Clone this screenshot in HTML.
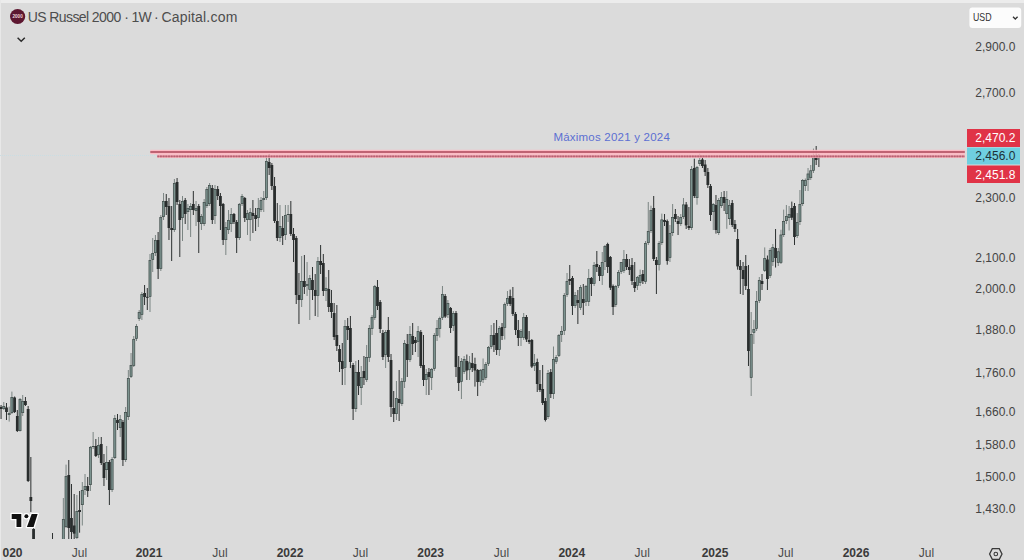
<!DOCTYPE html>
<html><head><meta charset="utf-8">
<style>
html,body{margin:0;padding:0;}
body{width:1024px;height:560px;overflow:hidden;background:#dbdbdb;position:relative;font-family:"Liberation Sans",sans-serif;}
#top{position:absolute;left:0;top:0;width:1024px;height:3px;background:#ececec;}
#left{position:absolute;left:0;top:0;width:1.2px;height:560px;background:#e8e8e8;}
svg{position:absolute;left:0;top:0;}
.t{position:absolute;white-space:nowrap;}
</style></head><body>
<div id="top"></div><div id="left"></div>
<svg width="1024" height="560" viewBox="0 0 1024 560">
<defs><clipPath id="pane"><rect x="0" y="3" width="955" height="536"/></clipPath></defs>
<!-- faint current price line -->
<line x1="0" y1="155.5" x2="955" y2="155.5" stroke="#c9dde3" stroke-width="1" stroke-dasharray="1 1"/>
<g clip-path="url(#pane)" shape-rendering="auto">
<rect x="0.56" y="405.0" width="1" height="14.0" fill="#2d3131"/>
<rect x="3.27" y="402.0" width="1" height="8.0" fill="#7b8583"/>
<rect x="5.98" y="403.0" width="1" height="17.0" fill="#2d3131"/>
<rect x="8.68" y="406.6" width="1" height="15.0" fill="#7b8583"/>
<rect x="11.39" y="391.6" width="1" height="22.4" fill="#7b8583"/>
<rect x="14.10" y="396.5" width="1" height="16.5" fill="#2d3131"/>
<rect x="16.81" y="410.0" width="1" height="22.0" fill="#2d3131"/>
<rect x="19.52" y="398.0" width="1" height="33.5" fill="#7b8583"/>
<rect x="22.22" y="395.0" width="1" height="21.0" fill="#7b8583"/>
<rect x="24.93" y="397.0" width="1" height="9.0" fill="#2d3131"/>
<rect x="27.64" y="406.0" width="1" height="76.0" fill="#2d3131"/>
<rect x="30.35" y="457.0" width="1" height="55.0" fill="#2d3131"/>
<rect x="33.06" y="528.0" width="1" height="172.0" fill="#2d3131"/>
<rect x="52.01" y="533.0" width="1" height="167.0" fill="#2d3131"/>
<rect x="62.84" y="498.0" width="1" height="102.0" fill="#7b8583"/>
<rect x="65.55" y="464.6" width="1" height="63.4" fill="#7b8583"/>
<rect x="68.26" y="460.0" width="1" height="80.0" fill="#2d3131"/>
<rect x="70.97" y="484.0" width="1" height="61.0" fill="#2d3131"/>
<rect x="73.68" y="494.0" width="1" height="51.0" fill="#2d3131"/>
<rect x="76.38" y="495.0" width="1" height="50.0" fill="#7b8583"/>
<rect x="79.09" y="491.0" width="1" height="41.7" fill="#2d3131"/>
<rect x="81.80" y="482.0" width="1" height="43.5" fill="#7b8583"/>
<rect x="84.51" y="474.0" width="1" height="21.0" fill="#7b8583"/>
<rect x="87.22" y="477.0" width="1" height="20.0" fill="#2d3131"/>
<rect x="89.92" y="446.0" width="1" height="45.0" fill="#7b8583"/>
<rect x="92.63" y="432.0" width="1" height="17.0" fill="#7b8583"/>
<rect x="95.34" y="439.0" width="1" height="18.0" fill="#2d3131"/>
<rect x="98.05" y="437.0" width="1" height="21.0" fill="#7b8583"/>
<rect x="100.76" y="437.0" width="1" height="28.0" fill="#2d3131"/>
<rect x="103.46" y="454.0" width="1" height="32.0" fill="#2d3131"/>
<rect x="106.17" y="446.0" width="1" height="34.0" fill="#7b8583"/>
<rect x="108.88" y="460.0" width="1" height="45.0" fill="#2d3131"/>
<rect x="111.59" y="457.0" width="1" height="35.0" fill="#7b8583"/>
<rect x="114.30" y="415.0" width="1" height="44.0" fill="#7b8583"/>
<rect x="117.00" y="414.0" width="1" height="16.0" fill="#2d3131"/>
<rect x="119.71" y="415.0" width="1" height="22.0" fill="#7b8583"/>
<rect x="122.42" y="420.0" width="1" height="46.0" fill="#2d3131"/>
<rect x="125.13" y="407.0" width="1" height="55.0" fill="#7b8583"/>
<rect x="127.84" y="370.0" width="1" height="50.0" fill="#7b8583"/>
<rect x="130.54" y="353.0" width="1" height="25.0" fill="#7b8583"/>
<rect x="133.25" y="336.0" width="1" height="31.0" fill="#7b8583"/>
<rect x="135.96" y="324.0" width="1" height="17.0" fill="#7b8583"/>
<rect x="138.67" y="310.0" width="1" height="11.0" fill="#7b8583"/>
<rect x="141.38" y="292.0" width="1" height="28.0" fill="#7b8583"/>
<rect x="144.08" y="285.0" width="1" height="20.0" fill="#2d3131"/>
<rect x="146.79" y="288.0" width="1" height="22.0" fill="#2d3131"/>
<rect x="149.50" y="254.0" width="1" height="58.0" fill="#7b8583"/>
<rect x="152.21" y="238.0" width="1" height="34.0" fill="#7b8583"/>
<rect x="154.92" y="235.0" width="1" height="21.0" fill="#7b8583"/>
<rect x="157.62" y="232.0" width="1" height="47.0" fill="#2d3131"/>
<rect x="160.33" y="215.0" width="1" height="56.0" fill="#7b8583"/>
<rect x="163.04" y="193.0" width="1" height="27.0" fill="#7b8583"/>
<rect x="165.75" y="194.0" width="1" height="21.0" fill="#2d3131"/>
<rect x="168.46" y="198.0" width="1" height="42.0" fill="#2d3131"/>
<rect x="171.16" y="206.0" width="1" height="55.0" fill="#2d3131"/>
<rect x="173.87" y="179.0" width="1" height="53.0" fill="#7b8583"/>
<rect x="176.58" y="178.0" width="1" height="27.0" fill="#2d3131"/>
<rect x="179.29" y="200.0" width="1" height="57.0" fill="#2d3131"/>
<rect x="182.00" y="196.0" width="1" height="45.0" fill="#7b8583"/>
<rect x="184.70" y="198.0" width="1" height="26.0" fill="#2d3131"/>
<rect x="187.41" y="204.0" width="1" height="26.0" fill="#7b8583"/>
<rect x="190.12" y="203.0" width="1" height="34.0" fill="#7b8583"/>
<rect x="192.83" y="191.0" width="1" height="24.0" fill="#2d3131"/>
<rect x="195.54" y="201.0" width="1" height="25.0" fill="#7b8583"/>
<rect x="198.24" y="204.0" width="1" height="49.0" fill="#2d3131"/>
<rect x="200.95" y="214.0" width="1" height="16.0" fill="#7b8583"/>
<rect x="203.66" y="199.0" width="1" height="27.0" fill="#7b8583"/>
<rect x="206.37" y="187.0" width="1" height="21.0" fill="#7b8583"/>
<rect x="209.08" y="183.0" width="1" height="23.0" fill="#7b8583"/>
<rect x="211.78" y="185.0" width="1" height="39.0" fill="#2d3131"/>
<rect x="214.49" y="185.0" width="1" height="39.0" fill="#7b8583"/>
<rect x="217.20" y="186.0" width="1" height="14.0" fill="#2d3131"/>
<rect x="219.91" y="193.0" width="1" height="37.0" fill="#2d3131"/>
<rect x="222.62" y="203.0" width="1" height="42.0" fill="#2d3131"/>
<rect x="225.32" y="222.0" width="1" height="33.0" fill="#7b8583"/>
<rect x="228.03" y="210.0" width="1" height="24.0" fill="#7b8583"/>
<rect x="230.74" y="208.0" width="1" height="24.0" fill="#7b8583"/>
<rect x="233.45" y="213.0" width="1" height="11.0" fill="#2d3131"/>
<rect x="236.16" y="220.0" width="1" height="33.0" fill="#2d3131"/>
<rect x="238.86" y="203.0" width="1" height="37.0" fill="#7b8583"/>
<rect x="241.57" y="194.0" width="1" height="12.0" fill="#7b8583"/>
<rect x="244.28" y="197.0" width="1" height="25.0" fill="#2d3131"/>
<rect x="246.99" y="210.0" width="1" height="25.0" fill="#7b8583"/>
<rect x="249.70" y="208.0" width="1" height="33.0" fill="#7b8583"/>
<rect x="252.40" y="200.0" width="1" height="33.0" fill="#2d3131"/>
<rect x="255.11" y="208.0" width="1" height="23.0" fill="#2d3131"/>
<rect x="257.82" y="198.0" width="1" height="29.0" fill="#7b8583"/>
<rect x="260.53" y="197.0" width="1" height="15.0" fill="#7b8583"/>
<rect x="263.24" y="191.0" width="1" height="21.0" fill="#7b8583"/>
<rect x="265.94" y="157.0" width="1" height="43.0" fill="#7b8583"/>
<rect x="268.65" y="154.0" width="1" height="21.0" fill="#2d3131"/>
<rect x="271.36" y="163.0" width="1" height="27.0" fill="#2d3131"/>
<rect x="274.07" y="177.0" width="1" height="46.0" fill="#2d3131"/>
<rect x="276.78" y="203.0" width="1" height="38.0" fill="#2d3131"/>
<rect x="279.48" y="205.0" width="1" height="37.0" fill="#7b8583"/>
<rect x="282.19" y="216.0" width="1" height="29.0" fill="#2d3131"/>
<rect x="284.90" y="205.0" width="1" height="35.0" fill="#7b8583"/>
<rect x="287.61" y="205.0" width="1" height="17.0" fill="#7b8583"/>
<rect x="290.32" y="201.0" width="1" height="35.0" fill="#2d3131"/>
<rect x="293.02" y="228.0" width="1" height="34.0" fill="#2d3131"/>
<rect x="295.73" y="236.0" width="1" height="68.0" fill="#2d3131"/>
<rect x="298.44" y="273.0" width="1" height="51.0" fill="#2d3131"/>
<rect x="301.15" y="256.0" width="1" height="51.0" fill="#7b8583"/>
<rect x="303.86" y="255.0" width="1" height="39.0" fill="#2d3131"/>
<rect x="306.56" y="262.0" width="1" height="34.0" fill="#7b8583"/>
<rect x="309.27" y="275.0" width="1" height="45.0" fill="#7b8583"/>
<rect x="311.98" y="267.0" width="1" height="33.0" fill="#2d3131"/>
<rect x="314.69" y="274.0" width="1" height="42.0" fill="#2d3131"/>
<rect x="317.40" y="257.0" width="1" height="60.0" fill="#7b8583"/>
<rect x="320.10" y="245.0" width="1" height="29.0" fill="#2d3131"/>
<rect x="322.81" y="254.0" width="1" height="42.0" fill="#2d3131"/>
<rect x="325.52" y="277.0" width="1" height="24.0" fill="#7b8583"/>
<rect x="328.23" y="270.0" width="1" height="42.0" fill="#2d3131"/>
<rect x="330.94" y="290.0" width="1" height="28.0" fill="#2d3131"/>
<rect x="333.64" y="303.0" width="1" height="37.0" fill="#2d3131"/>
<rect x="336.35" y="305.0" width="1" height="46.0" fill="#2d3131"/>
<rect x="339.06" y="345.0" width="1" height="27.0" fill="#2d3131"/>
<rect x="341.77" y="343.0" width="1" height="42.0" fill="#2d3131"/>
<rect x="344.48" y="320.0" width="1" height="65.0" fill="#7b8583"/>
<rect x="347.18" y="318.0" width="1" height="22.0" fill="#2d3131"/>
<rect x="349.89" y="316.0" width="1" height="52.0" fill="#2d3131"/>
<rect x="352.60" y="363.0" width="1" height="57.0" fill="#2d3131"/>
<rect x="355.31" y="361.0" width="1" height="51.0" fill="#7b8583"/>
<rect x="358.02" y="360.0" width="1" height="35.0" fill="#2d3131"/>
<rect x="360.72" y="366.0" width="1" height="39.0" fill="#7b8583"/>
<rect x="363.43" y="356.0" width="1" height="29.0" fill="#2d3131"/>
<rect x="366.14" y="345.0" width="1" height="37.0" fill="#7b8583"/>
<rect x="368.85" y="325.0" width="1" height="37.0" fill="#7b8583"/>
<rect x="371.56" y="315.0" width="1" height="20.0" fill="#7b8583"/>
<rect x="374.26" y="285.0" width="1" height="35.0" fill="#7b8583"/>
<rect x="376.97" y="280.0" width="1" height="30.0" fill="#2d3131"/>
<rect x="379.68" y="300.0" width="1" height="33.0" fill="#2d3131"/>
<rect x="382.39" y="330.0" width="1" height="30.0" fill="#2d3131"/>
<rect x="385.10" y="330.0" width="1" height="38.0" fill="#7b8583"/>
<rect x="387.80" y="317.0" width="1" height="45.0" fill="#2d3131"/>
<rect x="390.51" y="354.0" width="1" height="63.0" fill="#2d3131"/>
<rect x="393.22" y="391.0" width="1" height="31.0" fill="#2d3131"/>
<rect x="395.93" y="381.0" width="1" height="39.0" fill="#7b8583"/>
<rect x="398.64" y="370.0" width="1" height="51.0" fill="#2d3131"/>
<rect x="401.34" y="378.0" width="1" height="28.0" fill="#7b8583"/>
<rect x="404.05" y="340.0" width="1" height="48.0" fill="#7b8583"/>
<rect x="406.76" y="334.0" width="1" height="43.0" fill="#2d3131"/>
<rect x="409.47" y="326.0" width="1" height="36.0" fill="#7b8583"/>
<rect x="412.18" y="323.0" width="1" height="32.0" fill="#2d3131"/>
<rect x="414.88" y="337.0" width="1" height="15.0" fill="#2d3131"/>
<rect x="417.59" y="326.0" width="1" height="31.0" fill="#7b8583"/>
<rect x="420.30" y="330.0" width="1" height="38.0" fill="#2d3131"/>
<rect x="423.01" y="335.0" width="1" height="51.0" fill="#2d3131"/>
<rect x="425.72" y="369.0" width="1" height="26.0" fill="#7b8583"/>
<rect x="428.42" y="368.0" width="1" height="27.0" fill="#2d3131"/>
<rect x="431.13" y="368.0" width="1" height="22.0" fill="#7b8583"/>
<rect x="433.84" y="333.0" width="1" height="38.0" fill="#7b8583"/>
<rect x="436.55" y="320.0" width="1" height="21.0" fill="#7b8583"/>
<rect x="439.26" y="316.6" width="1" height="20.9" fill="#7b8583"/>
<rect x="441.96" y="286.0" width="1" height="34.0" fill="#7b8583"/>
<rect x="444.67" y="294.0" width="1" height="24.0" fill="#2d3131"/>
<rect x="447.38" y="300.0" width="1" height="18.0" fill="#7b8583"/>
<rect x="450.09" y="307.0" width="1" height="26.0" fill="#2d3131"/>
<rect x="452.80" y="311.0" width="1" height="20.0" fill="#7b8583"/>
<rect x="455.50" y="311.0" width="1" height="66.0" fill="#2d3131"/>
<rect x="458.21" y="356.0" width="1" height="35.0" fill="#2d3131"/>
<rect x="460.92" y="358.0" width="1" height="41.0" fill="#7b8583"/>
<rect x="463.63" y="356.0" width="1" height="18.0" fill="#7b8583"/>
<rect x="466.34" y="354.5" width="1" height="25.5" fill="#2d3131"/>
<rect x="469.04" y="356.0" width="1" height="24.0" fill="#7b8583"/>
<rect x="471.75" y="353.0" width="1" height="19.0" fill="#2d3131"/>
<rect x="474.46" y="357.7" width="1" height="28.9" fill="#2d3131"/>
<rect x="477.17" y="369.0" width="1" height="27.0" fill="#2d3131"/>
<rect x="479.88" y="369.0" width="1" height="17.0" fill="#7b8583"/>
<rect x="482.58" y="358.5" width="1" height="24.5" fill="#7b8583"/>
<rect x="485.29" y="362.0" width="1" height="18.0" fill="#7b8583"/>
<rect x="488.00" y="346.0" width="1" height="20.0" fill="#7b8583"/>
<rect x="490.71" y="325.0" width="1" height="24.0" fill="#7b8583"/>
<rect x="493.42" y="323.0" width="1" height="29.0" fill="#2d3131"/>
<rect x="496.12" y="320.0" width="1" height="35.0" fill="#2d3131"/>
<rect x="498.83" y="326.0" width="1" height="30.0" fill="#7b8583"/>
<rect x="501.54" y="323.0" width="1" height="17.0" fill="#2d3131"/>
<rect x="504.25" y="302.5" width="1" height="37.0" fill="#7b8583"/>
<rect x="506.96" y="291.0" width="1" height="15.0" fill="#7b8583"/>
<rect x="509.66" y="289.6" width="1" height="16.4" fill="#2d3131"/>
<rect x="512.37" y="287.0" width="1" height="29.0" fill="#2d3131"/>
<rect x="515.08" y="312.0" width="1" height="23.0" fill="#2d3131"/>
<rect x="517.79" y="320.0" width="1" height="26.0" fill="#2d3131"/>
<rect x="520.50" y="329.0" width="1" height="17.0" fill="#7b8583"/>
<rect x="523.20" y="313.0" width="1" height="27.0" fill="#7b8583"/>
<rect x="525.91" y="315.0" width="1" height="27.0" fill="#2d3131"/>
<rect x="528.62" y="331.0" width="1" height="13.0" fill="#2d3131"/>
<rect x="531.33" y="339.0" width="1" height="29.0" fill="#2d3131"/>
<rect x="534.04" y="354.0" width="1" height="17.0" fill="#7b8583"/>
<rect x="536.74" y="358.6" width="1" height="33.4" fill="#2d3131"/>
<rect x="539.45" y="370.0" width="1" height="22.0" fill="#2d3131"/>
<rect x="542.16" y="365.0" width="1" height="40.0" fill="#2d3131"/>
<rect x="544.87" y="398.0" width="1" height="23.5" fill="#2d3131"/>
<rect x="547.58" y="370.0" width="1" height="49.0" fill="#7b8583"/>
<rect x="550.28" y="369.0" width="1" height="29.0" fill="#2d3131"/>
<rect x="552.99" y="346.5" width="1" height="52.5" fill="#7b8583"/>
<rect x="555.70" y="355.0" width="1" height="9.0" fill="#7b8583"/>
<rect x="558.41" y="334.0" width="1" height="23.0" fill="#7b8583"/>
<rect x="561.12" y="326.0" width="1" height="16.0" fill="#7b8583"/>
<rect x="563.82" y="293.0" width="1" height="42.0" fill="#7b8583"/>
<rect x="566.53" y="273.0" width="1" height="24.0" fill="#7b8583"/>
<rect x="569.24" y="265.0" width="1" height="20.0" fill="#2d3131"/>
<rect x="571.95" y="276.0" width="1" height="39.0" fill="#2d3131"/>
<rect x="574.66" y="292.0" width="1" height="16.0" fill="#7b8583"/>
<rect x="577.36" y="290.0" width="1" height="34.0" fill="#2d3131"/>
<rect x="580.07" y="285.0" width="1" height="25.0" fill="#7b8583"/>
<rect x="582.78" y="284.0" width="1" height="31.0" fill="#2d3131"/>
<rect x="585.49" y="285.0" width="1" height="21.0" fill="#7b8583"/>
<rect x="588.20" y="269.0" width="1" height="37.0" fill="#7b8583"/>
<rect x="590.90" y="277.0" width="1" height="19.0" fill="#2d3131"/>
<rect x="593.61" y="262.0" width="1" height="24.0" fill="#7b8583"/>
<rect x="596.32" y="251.0" width="1" height="21.0" fill="#2d3131"/>
<rect x="599.03" y="265.0" width="1" height="16.0" fill="#2d3131"/>
<rect x="601.74" y="252.0" width="1" height="33.0" fill="#7b8583"/>
<rect x="604.44" y="245.0" width="1" height="25.0" fill="#7b8583"/>
<rect x="607.15" y="242.7" width="1" height="30.3" fill="#2d3131"/>
<rect x="609.86" y="256.0" width="1" height="34.0" fill="#2d3131"/>
<rect x="612.57" y="284.5" width="1" height="30.5" fill="#2d3131"/>
<rect x="615.28" y="285.0" width="1" height="22.0" fill="#7b8583"/>
<rect x="617.98" y="270.0" width="1" height="18.0" fill="#7b8583"/>
<rect x="620.69" y="262.0" width="1" height="12.0" fill="#7b8583"/>
<rect x="623.40" y="250.0" width="1" height="23.0" fill="#7b8583"/>
<rect x="626.11" y="254.0" width="1" height="16.0" fill="#2d3131"/>
<rect x="628.82" y="259.0" width="1" height="16.0" fill="#2d3131"/>
<rect x="631.52" y="258.0" width="1" height="27.0" fill="#2d3131"/>
<rect x="634.23" y="262.0" width="1" height="30.0" fill="#2d3131"/>
<rect x="636.94" y="276.0" width="1" height="14.0" fill="#7b8583"/>
<rect x="639.65" y="269.6" width="1" height="16.4" fill="#7b8583"/>
<rect x="642.36" y="270.0" width="1" height="14.0" fill="#2d3131"/>
<rect x="645.06" y="241.0" width="1" height="43.0" fill="#7b8583"/>
<rect x="647.77" y="202.0" width="1" height="43.0" fill="#7b8583"/>
<rect x="650.48" y="205.7" width="1" height="27.3" fill="#7b8583"/>
<rect x="653.19" y="196.0" width="1" height="65.0" fill="#2d3131"/>
<rect x="655.90" y="257.0" width="1" height="37.0" fill="#2d3131"/>
<rect x="658.60" y="241.0" width="1" height="29.5" fill="#7b8583"/>
<rect x="661.31" y="213.6" width="1" height="31.4" fill="#7b8583"/>
<rect x="664.02" y="214.0" width="1" height="12.0" fill="#2d3131"/>
<rect x="666.73" y="219.5" width="1" height="45.2" fill="#2d3131"/>
<rect x="669.44" y="225.0" width="1" height="37.0" fill="#7b8583"/>
<rect x="672.14" y="204.0" width="1" height="32.0" fill="#7b8583"/>
<rect x="674.85" y="209.0" width="1" height="13.0" fill="#2d3131"/>
<rect x="677.56" y="216.0" width="1" height="19.0" fill="#2d3131"/>
<rect x="680.27" y="214.0" width="1" height="12.0" fill="#7b8583"/>
<rect x="682.98" y="198.0" width="1" height="21.0" fill="#7b8583"/>
<rect x="685.68" y="202.0" width="1" height="27.0" fill="#2d3131"/>
<rect x="688.39" y="207.0" width="1" height="23.0" fill="#2d3131"/>
<rect x="691.10" y="166.0" width="1" height="64.0" fill="#7b8583"/>
<rect x="693.81" y="158.7" width="1" height="39.3" fill="#2d3131"/>
<rect x="696.52" y="166.0" width="1" height="38.7" fill="#7b8583"/>
<rect x="699.22" y="153.0" width="1" height="13.0" fill="#7b8583"/>
<rect x="701.93" y="155.0" width="1" height="13.0" fill="#2d3131"/>
<rect x="704.64" y="160.0" width="1" height="16.0" fill="#2d3131"/>
<rect x="707.35" y="168.0" width="1" height="20.0" fill="#2d3131"/>
<rect x="710.06" y="184.0" width="1" height="37.0" fill="#2d3131"/>
<rect x="712.76" y="203.0" width="1" height="27.0" fill="#7b8583"/>
<rect x="715.47" y="195.0" width="1" height="38.6" fill="#2d3131"/>
<rect x="718.18" y="198.0" width="1" height="37.0" fill="#7b8583"/>
<rect x="720.89" y="192.0" width="1" height="16.0" fill="#7b8583"/>
<rect x="723.60" y="191.0" width="1" height="20.0" fill="#2d3131"/>
<rect x="726.30" y="191.0" width="1" height="37.8" fill="#7b8583"/>
<rect x="729.01" y="200.0" width="1" height="25.0" fill="#7b8583"/>
<rect x="731.72" y="200.0" width="1" height="27.0" fill="#2d3131"/>
<rect x="734.43" y="220.0" width="1" height="12.0" fill="#2d3131"/>
<rect x="737.14" y="229.0" width="1" height="40.7" fill="#2d3131"/>
<rect x="739.84" y="260.0" width="1" height="34.0" fill="#2d3131"/>
<rect x="742.55" y="262.0" width="1" height="33.0" fill="#2d3131"/>
<rect x="745.26" y="255.0" width="1" height="35.0" fill="#2d3131"/>
<rect x="747.97" y="265.0" width="1" height="101.0" fill="#2d3131"/>
<rect x="750.68" y="312.0" width="1" height="84.0" fill="#7b8583"/>
<rect x="753.38" y="320.0" width="1" height="24.0" fill="#7b8583"/>
<rect x="756.09" y="291.0" width="1" height="40.0" fill="#7b8583"/>
<rect x="758.80" y="277.0" width="1" height="26.0" fill="#7b8583"/>
<rect x="761.51" y="274.0" width="1" height="16.0" fill="#2d3131"/>
<rect x="764.22" y="247.4" width="1" height="24.6" fill="#7b8583"/>
<rect x="766.92" y="255.5" width="1" height="34.5" fill="#2d3131"/>
<rect x="769.63" y="248.0" width="1" height="30.0" fill="#7b8583"/>
<rect x="772.34" y="244.0" width="1" height="22.0" fill="#7b8583"/>
<rect x="775.05" y="229.0" width="1" height="38.5" fill="#2d3131"/>
<rect x="777.76" y="248.0" width="1" height="18.0" fill="#7b8583"/>
<rect x="780.46" y="229.7" width="1" height="34.3" fill="#7b8583"/>
<rect x="783.17" y="209.6" width="1" height="27.4" fill="#7b8583"/>
<rect x="785.88" y="205.0" width="1" height="19.0" fill="#7b8583"/>
<rect x="788.59" y="206.0" width="1" height="24.5" fill="#7b8583"/>
<rect x="791.30" y="201.6" width="1" height="18.4" fill="#2d3131"/>
<rect x="794.00" y="203.0" width="1" height="42.0" fill="#2d3131"/>
<rect x="796.71" y="213.0" width="1" height="25.0" fill="#7b8583"/>
<rect x="799.42" y="190.0" width="1" height="35.0" fill="#7b8583"/>
<rect x="802.13" y="179.0" width="1" height="27.0" fill="#7b8583"/>
<rect x="804.84" y="178.5" width="1" height="12.5" fill="#7b8583"/>
<rect x="807.54" y="168.0" width="1" height="23.0" fill="#7b8583"/>
<rect x="810.25" y="165.0" width="1" height="15.0" fill="#7b8583"/>
<rect x="812.96" y="148.6" width="1" height="24.4" fill="#7b8583"/>
<rect x="815.67" y="146.0" width="1" height="19.0" fill="#2d3131"/>
<rect x="818.38" y="154.0" width="1" height="13.0" fill="#2d3131"/>
<rect x="-0.34" y="407.0" width="2.8" height="2.0" fill="#292d2d"/>
<rect x="2.72" y="406.35" width="2.10" height="2.30" fill="#7c938f" stroke="#3e4a48" stroke-width="0.7"/>
<rect x="5.08" y="407.5" width="2.8" height="4.5" fill="#292d2d"/>
<rect x="8.13" y="413.35" width="2.10" height="1.30" fill="#7c938f" stroke="#3e4a48" stroke-width="0.7"/>
<rect x="10.84" y="397.35" width="2.10" height="15.30" fill="#7c938f" stroke="#3e4a48" stroke-width="0.7"/>
<rect x="13.20" y="397.5" width="2.8" height="14.5" fill="#292d2d"/>
<rect x="15.91" y="416.0" width="2.8" height="15.0" fill="#292d2d"/>
<rect x="18.97" y="399.35" width="2.10" height="31.30" fill="#7c938f" stroke="#3e4a48" stroke-width="0.7"/>
<rect x="21.67" y="401.35" width="2.10" height="11.30" fill="#7c938f" stroke="#3e4a48" stroke-width="0.7"/>
<rect x="24.03" y="401.0" width="2.8" height="4.0" fill="#292d2d"/>
<rect x="26.74" y="409.0" width="2.8" height="72.0" fill="#292d2d"/>
<rect x="29.45" y="497.0" width="2.8" height="4.0" fill="#292d2d"/>
<rect x="32.16" y="529.0" width="2.8" height="71.0" fill="#292d2d"/>
<rect x="51.11" y="599.5" width="2.8" height="1.0" fill="#292d2d"/>
<rect x="62.29" y="519.35" width="2.10" height="40.30" fill="#7c938f" stroke="#3e4a48" stroke-width="0.7"/>
<rect x="65.00" y="476.35" width="2.10" height="50.30" fill="#7c938f" stroke="#3e4a48" stroke-width="0.7"/>
<rect x="67.36" y="475.0" width="2.8" height="53.0" fill="#292d2d"/>
<rect x="70.07" y="518.0" width="2.8" height="14.0" fill="#292d2d"/>
<rect x="72.78" y="525.5" width="2.8" height="8.1" fill="#292d2d"/>
<rect x="75.83" y="511.35" width="2.10" height="26.30" fill="#7c938f" stroke="#3e4a48" stroke-width="0.7"/>
<rect x="78.19" y="510.0" width="2.8" height="2.0" fill="#292d2d"/>
<rect x="81.25" y="490.35" width="2.10" height="14.30" fill="#7c938f" stroke="#3e4a48" stroke-width="0.7"/>
<rect x="83.96" y="486.35" width="2.10" height="3.30" fill="#7c938f" stroke="#3e4a48" stroke-width="0.7"/>
<rect x="86.32" y="486.0" width="2.8" height="5.0" fill="#292d2d"/>
<rect x="89.37" y="447.35" width="2.10" height="37.30" fill="#7c938f" stroke="#3e4a48" stroke-width="0.7"/>
<rect x="92.08" y="446.35" width="2.10" height="0.30" fill="#7c938f" stroke="#3e4a48" stroke-width="0.7"/>
<rect x="94.44" y="446.0" width="2.8" height="10.0" fill="#292d2d"/>
<rect x="97.50" y="445.35" width="2.10" height="9.30" fill="#7c938f" stroke="#3e4a48" stroke-width="0.7"/>
<rect x="99.86" y="444.0" width="2.8" height="19.0" fill="#292d2d"/>
<rect x="102.56" y="463.0" width="2.8" height="15.0" fill="#292d2d"/>
<rect x="105.62" y="462.35" width="2.10" height="7.30" fill="#7c938f" stroke="#3e4a48" stroke-width="0.7"/>
<rect x="107.98" y="462.0" width="2.8" height="28.0" fill="#292d2d"/>
<rect x="111.04" y="459.35" width="2.10" height="30.30" fill="#7c938f" stroke="#3e4a48" stroke-width="0.7"/>
<rect x="113.75" y="418.35" width="2.10" height="39.30" fill="#7c938f" stroke="#3e4a48" stroke-width="0.7"/>
<rect x="116.10" y="420.0" width="2.8" height="3.0" fill="#292d2d"/>
<rect x="119.16" y="419.35" width="2.10" height="8.30" fill="#7c938f" stroke="#3e4a48" stroke-width="0.7"/>
<rect x="121.52" y="422.0" width="2.8" height="38.0" fill="#292d2d"/>
<rect x="124.58" y="412.35" width="2.10" height="47.30" fill="#7c938f" stroke="#3e4a48" stroke-width="0.7"/>
<rect x="127.29" y="378.35" width="2.10" height="38.30" fill="#7c938f" stroke="#3e4a48" stroke-width="0.7"/>
<rect x="129.99" y="365.35" width="2.10" height="11.30" fill="#7c938f" stroke="#3e4a48" stroke-width="0.7"/>
<rect x="132.70" y="339.35" width="2.10" height="26.30" fill="#7c938f" stroke="#3e4a48" stroke-width="0.7"/>
<rect x="135.41" y="326.35" width="2.10" height="12.30" fill="#7c938f" stroke="#3e4a48" stroke-width="0.7"/>
<rect x="138.12" y="312.35" width="2.10" height="6.30" fill="#7c938f" stroke="#3e4a48" stroke-width="0.7"/>
<rect x="140.83" y="294.35" width="2.10" height="20.30" fill="#7c938f" stroke="#3e4a48" stroke-width="0.7"/>
<rect x="143.18" y="293.0" width="2.8" height="4.0" fill="#292d2d"/>
<rect x="145.89" y="296.8" width="2.8" height="1.0" fill="#292d2d"/>
<rect x="148.95" y="260.35" width="2.10" height="36.30" fill="#7c938f" stroke="#3e4a48" stroke-width="0.7"/>
<rect x="151.66" y="253.35" width="2.10" height="6.30" fill="#7c938f" stroke="#3e4a48" stroke-width="0.7"/>
<rect x="154.37" y="240.35" width="2.10" height="12.30" fill="#7c938f" stroke="#3e4a48" stroke-width="0.7"/>
<rect x="156.72" y="240.0" width="2.8" height="29.0" fill="#292d2d"/>
<rect x="159.78" y="217.35" width="2.10" height="51.30" fill="#7c938f" stroke="#3e4a48" stroke-width="0.7"/>
<rect x="162.49" y="201.35" width="2.10" height="15.30" fill="#7c938f" stroke="#3e4a48" stroke-width="0.7"/>
<rect x="164.85" y="201.0" width="2.8" height="6.0" fill="#292d2d"/>
<rect x="167.56" y="206.0" width="2.8" height="22.0" fill="#292d2d"/>
<rect x="170.26" y="228.0" width="2.8" height="2.0" fill="#292d2d"/>
<rect x="173.32" y="183.35" width="2.10" height="46.30" fill="#7c938f" stroke="#3e4a48" stroke-width="0.7"/>
<rect x="175.68" y="182.0" width="2.8" height="20.0" fill="#292d2d"/>
<rect x="178.39" y="204.0" width="2.8" height="16.0" fill="#292d2d"/>
<rect x="181.45" y="201.35" width="2.10" height="16.30" fill="#7c938f" stroke="#3e4a48" stroke-width="0.7"/>
<rect x="183.80" y="200.0" width="2.8" height="14.0" fill="#292d2d"/>
<rect x="186.86" y="208.35" width="2.10" height="3.30" fill="#7c938f" stroke="#3e4a48" stroke-width="0.7"/>
<rect x="189.57" y="206.35" width="2.10" height="3.30" fill="#7c938f" stroke="#3e4a48" stroke-width="0.7"/>
<rect x="191.93" y="204.0" width="2.8" height="6.0" fill="#292d2d"/>
<rect x="194.99" y="208.35" width="2.10" height="2.30" fill="#7c938f" stroke="#3e4a48" stroke-width="0.7"/>
<rect x="197.34" y="206.0" width="2.8" height="16.0" fill="#292d2d"/>
<rect x="200.40" y="216.35" width="2.10" height="7.30" fill="#7c938f" stroke="#3e4a48" stroke-width="0.7"/>
<rect x="203.11" y="202.35" width="2.10" height="21.30" fill="#7c938f" stroke="#3e4a48" stroke-width="0.7"/>
<rect x="205.82" y="189.35" width="2.10" height="16.30" fill="#7c938f" stroke="#3e4a48" stroke-width="0.7"/>
<rect x="208.53" y="185.35" width="2.10" height="18.30" fill="#7c938f" stroke="#3e4a48" stroke-width="0.7"/>
<rect x="210.88" y="188.0" width="2.8" height="32.0" fill="#292d2d"/>
<rect x="213.94" y="189.35" width="2.10" height="26.30" fill="#7c938f" stroke="#3e4a48" stroke-width="0.7"/>
<rect x="216.30" y="189.0" width="2.8" height="7.0" fill="#292d2d"/>
<rect x="219.01" y="196.0" width="2.8" height="10.0" fill="#292d2d"/>
<rect x="221.72" y="204.0" width="2.8" height="36.0" fill="#292d2d"/>
<rect x="224.77" y="227.35" width="2.10" height="12.30" fill="#7c938f" stroke="#3e4a48" stroke-width="0.7"/>
<rect x="227.48" y="220.35" width="2.10" height="9.30" fill="#7c938f" stroke="#3e4a48" stroke-width="0.7"/>
<rect x="230.19" y="214.35" width="2.10" height="9.30" fill="#7c938f" stroke="#3e4a48" stroke-width="0.7"/>
<rect x="232.55" y="214.0" width="2.8" height="8.0" fill="#292d2d"/>
<rect x="235.26" y="222.0" width="2.8" height="16.0" fill="#292d2d"/>
<rect x="238.31" y="204.35" width="2.10" height="33.30" fill="#7c938f" stroke="#3e4a48" stroke-width="0.7"/>
<rect x="241.02" y="196.35" width="2.10" height="7.30" fill="#7c938f" stroke="#3e4a48" stroke-width="0.7"/>
<rect x="243.38" y="198.0" width="2.8" height="20.0" fill="#292d2d"/>
<rect x="246.44" y="213.35" width="2.10" height="6.30" fill="#7c938f" stroke="#3e4a48" stroke-width="0.7"/>
<rect x="249.15" y="212.35" width="2.10" height="7.30" fill="#7c938f" stroke="#3e4a48" stroke-width="0.7"/>
<rect x="251.50" y="213.0" width="2.8" height="3.0" fill="#292d2d"/>
<rect x="254.21" y="215.0" width="2.8" height="4.0" fill="#292d2d"/>
<rect x="257.27" y="208.35" width="2.10" height="9.30" fill="#7c938f" stroke="#3e4a48" stroke-width="0.7"/>
<rect x="259.98" y="200.35" width="2.10" height="9.30" fill="#7c938f" stroke="#3e4a48" stroke-width="0.7"/>
<rect x="262.69" y="198.35" width="2.10" height="1.30" fill="#7c938f" stroke="#3e4a48" stroke-width="0.7"/>
<rect x="265.39" y="161.35" width="2.10" height="36.30" fill="#7c938f" stroke="#3e4a48" stroke-width="0.7"/>
<rect x="267.75" y="162.0" width="2.8" height="6.0" fill="#292d2d"/>
<rect x="270.46" y="165.0" width="2.8" height="21.0" fill="#292d2d"/>
<rect x="273.17" y="186.0" width="2.8" height="35.0" fill="#292d2d"/>
<rect x="275.88" y="221.0" width="2.8" height="17.0" fill="#292d2d"/>
<rect x="278.93" y="226.35" width="2.10" height="11.30" fill="#7c938f" stroke="#3e4a48" stroke-width="0.7"/>
<rect x="281.29" y="228.0" width="2.8" height="8.0" fill="#292d2d"/>
<rect x="284.35" y="215.35" width="2.10" height="19.30" fill="#7c938f" stroke="#3e4a48" stroke-width="0.7"/>
<rect x="287.06" y="214.35" width="2.10" height="0.30" fill="#7c938f" stroke="#3e4a48" stroke-width="0.7"/>
<rect x="289.42" y="214.0" width="2.8" height="20.0" fill="#292d2d"/>
<rect x="292.12" y="234.0" width="2.8" height="6.0" fill="#292d2d"/>
<rect x="294.83" y="238.0" width="2.8" height="57.0" fill="#292d2d"/>
<rect x="297.54" y="295.0" width="2.8" height="5.0" fill="#292d2d"/>
<rect x="300.60" y="281.35" width="2.10" height="18.30" fill="#7c938f" stroke="#3e4a48" stroke-width="0.7"/>
<rect x="302.96" y="281.0" width="2.8" height="6.0" fill="#292d2d"/>
<rect x="306.01" y="284.35" width="2.10" height="1.30" fill="#7c938f" stroke="#3e4a48" stroke-width="0.7"/>
<rect x="308.72" y="278.35" width="2.10" height="11.30" fill="#7c938f" stroke="#3e4a48" stroke-width="0.7"/>
<rect x="311.08" y="280.0" width="2.8" height="10.0" fill="#292d2d"/>
<rect x="313.79" y="290.0" width="2.8" height="6.0" fill="#292d2d"/>
<rect x="316.85" y="261.35" width="2.10" height="34.30" fill="#7c938f" stroke="#3e4a48" stroke-width="0.7"/>
<rect x="319.20" y="261.0" width="2.8" height="4.0" fill="#292d2d"/>
<rect x="321.91" y="263.0" width="2.8" height="28.0" fill="#292d2d"/>
<rect x="324.97" y="288.35" width="2.10" height="2.30" fill="#7c938f" stroke="#3e4a48" stroke-width="0.7"/>
<rect x="327.33" y="289.0" width="2.8" height="18.0" fill="#292d2d"/>
<rect x="330.04" y="303.0" width="2.8" height="9.0" fill="#292d2d"/>
<rect x="332.74" y="313.0" width="2.8" height="24.0" fill="#292d2d"/>
<rect x="335.45" y="335.0" width="2.8" height="11.0" fill="#292d2d"/>
<rect x="338.16" y="349.0" width="2.8" height="13.0" fill="#292d2d"/>
<rect x="340.87" y="361.0" width="2.8" height="8.0" fill="#292d2d"/>
<rect x="343.93" y="326.35" width="2.10" height="41.30" fill="#7c938f" stroke="#3e4a48" stroke-width="0.7"/>
<rect x="346.28" y="326.0" width="2.8" height="4.0" fill="#292d2d"/>
<rect x="348.99" y="328.0" width="2.8" height="34.0" fill="#292d2d"/>
<rect x="351.70" y="365.0" width="2.8" height="44.0" fill="#292d2d"/>
<rect x="354.76" y="372.35" width="2.10" height="36.30" fill="#7c938f" stroke="#3e4a48" stroke-width="0.7"/>
<rect x="357.12" y="372.0" width="2.8" height="14.0" fill="#292d2d"/>
<rect x="360.17" y="377.35" width="2.10" height="10.30" fill="#7c938f" stroke="#3e4a48" stroke-width="0.7"/>
<rect x="362.53" y="371.0" width="2.8" height="7.0" fill="#292d2d"/>
<rect x="365.59" y="357.35" width="2.10" height="22.30" fill="#7c938f" stroke="#3e4a48" stroke-width="0.7"/>
<rect x="368.30" y="328.35" width="2.10" height="29.30" fill="#7c938f" stroke="#3e4a48" stroke-width="0.7"/>
<rect x="371.01" y="317.35" width="2.10" height="11.30" fill="#7c938f" stroke="#3e4a48" stroke-width="0.7"/>
<rect x="373.71" y="286.35" width="2.10" height="31.30" fill="#7c938f" stroke="#3e4a48" stroke-width="0.7"/>
<rect x="376.07" y="287.0" width="2.8" height="19.0" fill="#292d2d"/>
<rect x="378.78" y="302.0" width="2.8" height="27.0" fill="#292d2d"/>
<rect x="381.49" y="333.0" width="2.8" height="24.0" fill="#292d2d"/>
<rect x="384.55" y="332.35" width="2.10" height="22.30" fill="#7c938f" stroke="#3e4a48" stroke-width="0.7"/>
<rect x="386.90" y="330.0" width="2.8" height="27.0" fill="#292d2d"/>
<rect x="389.61" y="360.0" width="2.8" height="47.0" fill="#292d2d"/>
<rect x="392.32" y="408.0" width="2.8" height="6.0" fill="#292d2d"/>
<rect x="395.38" y="398.35" width="2.10" height="15.30" fill="#7c938f" stroke="#3e4a48" stroke-width="0.7"/>
<rect x="397.74" y="399.0" width="2.8" height="4.0" fill="#292d2d"/>
<rect x="400.79" y="381.35" width="2.10" height="22.30" fill="#7c938f" stroke="#3e4a48" stroke-width="0.7"/>
<rect x="403.50" y="343.35" width="2.10" height="38.30" fill="#7c938f" stroke="#3e4a48" stroke-width="0.7"/>
<rect x="405.86" y="344.0" width="2.8" height="16.0" fill="#292d2d"/>
<rect x="408.92" y="334.35" width="2.10" height="25.30" fill="#7c938f" stroke="#3e4a48" stroke-width="0.7"/>
<rect x="411.28" y="336.0" width="2.8" height="8.0" fill="#292d2d"/>
<rect x="413.98" y="340.0" width="2.8" height="3.0" fill="#292d2d"/>
<rect x="417.04" y="331.35" width="2.10" height="10.30" fill="#7c938f" stroke="#3e4a48" stroke-width="0.7"/>
<rect x="419.40" y="332.0" width="2.8" height="34.0" fill="#292d2d"/>
<rect x="422.11" y="365.0" width="2.8" height="15.0" fill="#292d2d"/>
<rect x="425.17" y="374.35" width="2.10" height="5.30" fill="#7c938f" stroke="#3e4a48" stroke-width="0.7"/>
<rect x="427.52" y="372.0" width="2.8" height="5.0" fill="#292d2d"/>
<rect x="430.58" y="369.35" width="2.10" height="8.30" fill="#7c938f" stroke="#3e4a48" stroke-width="0.7"/>
<rect x="433.29" y="335.35" width="2.10" height="33.30" fill="#7c938f" stroke="#3e4a48" stroke-width="0.7"/>
<rect x="436.00" y="328.35" width="2.10" height="7.30" fill="#7c938f" stroke="#3e4a48" stroke-width="0.7"/>
<rect x="438.71" y="318.35" width="2.10" height="10.30" fill="#7c938f" stroke="#3e4a48" stroke-width="0.7"/>
<rect x="441.41" y="294.35" width="2.10" height="23.30" fill="#7c938f" stroke="#3e4a48" stroke-width="0.7"/>
<rect x="443.77" y="296.0" width="2.8" height="20.6" fill="#292d2d"/>
<rect x="446.83" y="303.35" width="2.10" height="11.30" fill="#7c938f" stroke="#3e4a48" stroke-width="0.7"/>
<rect x="449.19" y="308.0" width="2.8" height="20.0" fill="#292d2d"/>
<rect x="452.25" y="313.35" width="2.10" height="12.30" fill="#7c938f" stroke="#3e4a48" stroke-width="0.7"/>
<rect x="454.60" y="313.0" width="2.8" height="54.0" fill="#292d2d"/>
<rect x="457.31" y="367.0" width="2.8" height="16.0" fill="#292d2d"/>
<rect x="460.37" y="361.35" width="2.10" height="20.30" fill="#7c938f" stroke="#3e4a48" stroke-width="0.7"/>
<rect x="463.08" y="359.35" width="2.10" height="12.30" fill="#7c938f" stroke="#3e4a48" stroke-width="0.7"/>
<rect x="465.44" y="361.0" width="2.8" height="9.5" fill="#292d2d"/>
<rect x="468.49" y="362.85" width="2.10" height="6.80" fill="#7c938f" stroke="#3e4a48" stroke-width="0.7"/>
<rect x="470.85" y="363.0" width="2.8" height="5.0" fill="#292d2d"/>
<rect x="473.56" y="364.0" width="2.8" height="6.5" fill="#292d2d"/>
<rect x="476.27" y="370.0" width="2.8" height="12.0" fill="#292d2d"/>
<rect x="479.33" y="370.35" width="2.10" height="11.30" fill="#7c938f" stroke="#3e4a48" stroke-width="0.7"/>
<rect x="482.03" y="369.35" width="2.10" height="10.30" fill="#7c938f" stroke="#3e4a48" stroke-width="0.7"/>
<rect x="484.74" y="364.35" width="2.10" height="13.30" fill="#7c938f" stroke="#3e4a48" stroke-width="0.7"/>
<rect x="487.45" y="347.35" width="2.10" height="16.30" fill="#7c938f" stroke="#3e4a48" stroke-width="0.7"/>
<rect x="490.16" y="335.35" width="2.10" height="11.30" fill="#7c938f" stroke="#3e4a48" stroke-width="0.7"/>
<rect x="492.52" y="335.0" width="2.8" height="10.0" fill="#292d2d"/>
<rect x="495.22" y="333.0" width="2.8" height="17.0" fill="#292d2d"/>
<rect x="498.28" y="328.35" width="2.10" height="21.30" fill="#7c938f" stroke="#3e4a48" stroke-width="0.7"/>
<rect x="500.64" y="327.0" width="2.8" height="9.0" fill="#292d2d"/>
<rect x="503.70" y="304.35" width="2.10" height="23.30" fill="#7c938f" stroke="#3e4a48" stroke-width="0.7"/>
<rect x="506.41" y="298.35" width="2.10" height="5.30" fill="#7c938f" stroke="#3e4a48" stroke-width="0.7"/>
<rect x="508.76" y="296.0" width="2.8" height="8.0" fill="#292d2d"/>
<rect x="511.47" y="298.0" width="2.8" height="16.0" fill="#292d2d"/>
<rect x="514.18" y="314.0" width="2.8" height="16.0" fill="#292d2d"/>
<rect x="516.89" y="330.0" width="2.8" height="8.0" fill="#292d2d"/>
<rect x="519.95" y="331.35" width="2.10" height="6.30" fill="#7c938f" stroke="#3e4a48" stroke-width="0.7"/>
<rect x="522.65" y="317.35" width="2.10" height="20.30" fill="#7c938f" stroke="#3e4a48" stroke-width="0.7"/>
<rect x="525.01" y="317.0" width="2.8" height="22.5" fill="#292d2d"/>
<rect x="527.72" y="340.0" width="2.8" height="2.0" fill="#292d2d"/>
<rect x="530.43" y="340.0" width="2.8" height="26.6" fill="#292d2d"/>
<rect x="533.49" y="363.35" width="2.10" height="2.30" fill="#7c938f" stroke="#3e4a48" stroke-width="0.7"/>
<rect x="535.84" y="362.0" width="2.8" height="22.0" fill="#292d2d"/>
<rect x="538.55" y="384.0" width="2.8" height="6.0" fill="#292d2d"/>
<rect x="541.26" y="389.0" width="2.8" height="14.0" fill="#292d2d"/>
<rect x="543.97" y="401.0" width="2.8" height="19.0" fill="#292d2d"/>
<rect x="547.03" y="373.35" width="2.10" height="43.30" fill="#7c938f" stroke="#3e4a48" stroke-width="0.7"/>
<rect x="549.38" y="372.0" width="2.8" height="22.0" fill="#292d2d"/>
<rect x="552.44" y="359.35" width="2.10" height="34.30" fill="#7c938f" stroke="#3e4a48" stroke-width="0.7"/>
<rect x="555.15" y="357.35" width="2.10" height="4.30" fill="#7c938f" stroke="#3e4a48" stroke-width="0.7"/>
<rect x="557.86" y="335.35" width="2.10" height="20.30" fill="#7c938f" stroke="#3e4a48" stroke-width="0.7"/>
<rect x="560.57" y="331.35" width="2.10" height="3.30" fill="#7c938f" stroke="#3e4a48" stroke-width="0.7"/>
<rect x="563.27" y="295.35" width="2.10" height="35.30" fill="#7c938f" stroke="#3e4a48" stroke-width="0.7"/>
<rect x="565.98" y="281.35" width="2.10" height="13.30" fill="#7c938f" stroke="#3e4a48" stroke-width="0.7"/>
<rect x="568.34" y="279.0" width="2.8" height="2.0" fill="#292d2d"/>
<rect x="571.05" y="278.0" width="2.8" height="28.0" fill="#292d2d"/>
<rect x="574.11" y="295.35" width="2.10" height="10.30" fill="#7c938f" stroke="#3e4a48" stroke-width="0.7"/>
<rect x="576.46" y="300.0" width="2.8" height="3.0" fill="#292d2d"/>
<rect x="579.52" y="287.35" width="2.10" height="20.30" fill="#7c938f" stroke="#3e4a48" stroke-width="0.7"/>
<rect x="581.88" y="299.0" width="2.8" height="4.0" fill="#292d2d"/>
<rect x="584.94" y="286.35" width="2.10" height="15.30" fill="#7c938f" stroke="#3e4a48" stroke-width="0.7"/>
<rect x="587.65" y="278.35" width="2.10" height="23.30" fill="#7c938f" stroke="#3e4a48" stroke-width="0.7"/>
<rect x="590.00" y="278.0" width="2.8" height="6.0" fill="#292d2d"/>
<rect x="593.06" y="265.35" width="2.10" height="18.30" fill="#7c938f" stroke="#3e4a48" stroke-width="0.7"/>
<rect x="595.42" y="264.0" width="2.8" height="3.0" fill="#292d2d"/>
<rect x="598.13" y="267.0" width="2.8" height="9.0" fill="#292d2d"/>
<rect x="601.19" y="262.35" width="2.10" height="13.30" fill="#7c938f" stroke="#3e4a48" stroke-width="0.7"/>
<rect x="603.89" y="246.35" width="2.10" height="15.30" fill="#7c938f" stroke="#3e4a48" stroke-width="0.7"/>
<rect x="606.25" y="244.0" width="2.8" height="23.0" fill="#292d2d"/>
<rect x="608.96" y="257.0" width="2.8" height="30.7" fill="#292d2d"/>
<rect x="611.67" y="286.0" width="2.8" height="21.0" fill="#292d2d"/>
<rect x="614.73" y="286.35" width="2.10" height="18.30" fill="#7c938f" stroke="#3e4a48" stroke-width="0.7"/>
<rect x="617.43" y="272.35" width="2.10" height="13.30" fill="#7c938f" stroke="#3e4a48" stroke-width="0.7"/>
<rect x="620.14" y="262.35" width="2.10" height="9.30" fill="#7c938f" stroke="#3e4a48" stroke-width="0.7"/>
<rect x="622.85" y="259.35" width="2.10" height="11.30" fill="#7c938f" stroke="#3e4a48" stroke-width="0.7"/>
<rect x="625.21" y="259.0" width="2.8" height="8.0" fill="#292d2d"/>
<rect x="627.92" y="267.0" width="2.8" height="3.0" fill="#292d2d"/>
<rect x="630.62" y="265.0" width="2.8" height="16.0" fill="#292d2d"/>
<rect x="633.33" y="282.0" width="2.8" height="6.0" fill="#292d2d"/>
<rect x="636.39" y="277.35" width="2.10" height="8.30" fill="#7c938f" stroke="#3e4a48" stroke-width="0.7"/>
<rect x="639.10" y="275.35" width="2.10" height="7.30" fill="#7c938f" stroke="#3e4a48" stroke-width="0.7"/>
<rect x="641.46" y="274.0" width="2.8" height="7.0" fill="#292d2d"/>
<rect x="644.51" y="243.35" width="2.10" height="38.30" fill="#7c938f" stroke="#3e4a48" stroke-width="0.7"/>
<rect x="647.22" y="231.35" width="2.10" height="11.30" fill="#7c938f" stroke="#3e4a48" stroke-width="0.7"/>
<rect x="649.93" y="210.35" width="2.10" height="20.30" fill="#7c938f" stroke="#3e4a48" stroke-width="0.7"/>
<rect x="652.29" y="208.0" width="2.8" height="51.0" fill="#292d2d"/>
<rect x="655.00" y="260.0" width="2.8" height="5.0" fill="#292d2d"/>
<rect x="658.05" y="243.35" width="2.10" height="21.30" fill="#7c938f" stroke="#3e4a48" stroke-width="0.7"/>
<rect x="660.76" y="219.85" width="2.10" height="22.80" fill="#7c938f" stroke="#3e4a48" stroke-width="0.7"/>
<rect x="663.12" y="220.0" width="2.8" height="2.0" fill="#292d2d"/>
<rect x="665.83" y="221.0" width="2.8" height="40.0" fill="#292d2d"/>
<rect x="668.89" y="233.35" width="2.10" height="24.30" fill="#7c938f" stroke="#3e4a48" stroke-width="0.7"/>
<rect x="671.59" y="217.35" width="2.10" height="15.30" fill="#7c938f" stroke="#3e4a48" stroke-width="0.7"/>
<rect x="673.95" y="214.0" width="2.8" height="5.0" fill="#292d2d"/>
<rect x="676.66" y="221.0" width="2.8" height="3.0" fill="#292d2d"/>
<rect x="679.72" y="217.35" width="2.10" height="6.30" fill="#7c938f" stroke="#3e4a48" stroke-width="0.7"/>
<rect x="682.43" y="204.85" width="2.10" height="11.80" fill="#7c938f" stroke="#3e4a48" stroke-width="0.7"/>
<rect x="684.78" y="204.5" width="2.8" height="20.9" fill="#292d2d"/>
<rect x="687.49" y="226.0" width="2.8" height="2.0" fill="#292d2d"/>
<rect x="690.55" y="169.35" width="2.10" height="58.30" fill="#7c938f" stroke="#3e4a48" stroke-width="0.7"/>
<rect x="692.91" y="168.0" width="2.8" height="28.0" fill="#292d2d"/>
<rect x="695.97" y="167.35" width="2.10" height="30.30" fill="#7c938f" stroke="#3e4a48" stroke-width="0.7"/>
<rect x="698.67" y="160.35" width="2.10" height="3.30" fill="#7c938f" stroke="#3e4a48" stroke-width="0.7"/>
<rect x="701.03" y="159.5" width="2.8" height="6.5" fill="#292d2d"/>
<rect x="703.74" y="164.5" width="2.8" height="7.5" fill="#292d2d"/>
<rect x="706.45" y="172.0" width="2.8" height="13.0" fill="#292d2d"/>
<rect x="709.16" y="186.0" width="2.8" height="29.0" fill="#292d2d"/>
<rect x="712.21" y="204.35" width="2.10" height="7.30" fill="#7c938f" stroke="#3e4a48" stroke-width="0.7"/>
<rect x="714.57" y="205.0" width="2.8" height="25.0" fill="#292d2d"/>
<rect x="717.63" y="200.35" width="2.10" height="32.30" fill="#7c938f" stroke="#3e4a48" stroke-width="0.7"/>
<rect x="720.34" y="197.35" width="2.10" height="8.30" fill="#7c938f" stroke="#3e4a48" stroke-width="0.7"/>
<rect x="722.70" y="197.0" width="2.8" height="6.0" fill="#292d2d"/>
<rect x="725.75" y="199.35" width="2.10" height="14.30" fill="#7c938f" stroke="#3e4a48" stroke-width="0.7"/>
<rect x="728.46" y="205.35" width="2.10" height="13.30" fill="#7c938f" stroke="#3e4a48" stroke-width="0.7"/>
<rect x="730.82" y="203.0" width="2.8" height="22.0" fill="#292d2d"/>
<rect x="733.53" y="224.0" width="2.8" height="5.0" fill="#292d2d"/>
<rect x="736.24" y="239.0" width="2.8" height="27.4" fill="#292d2d"/>
<rect x="738.94" y="266.0" width="2.8" height="4.0" fill="#292d2d"/>
<rect x="741.65" y="270.0" width="2.8" height="9.0" fill="#292d2d"/>
<rect x="744.36" y="266.0" width="2.8" height="20.0" fill="#292d2d"/>
<rect x="747.07" y="289.0" width="2.8" height="62.0" fill="#292d2d"/>
<rect x="750.13" y="334.35" width="2.10" height="43.30" fill="#7c938f" stroke="#3e4a48" stroke-width="0.7"/>
<rect x="752.83" y="329.35" width="2.10" height="3.30" fill="#7c938f" stroke="#3e4a48" stroke-width="0.7"/>
<rect x="755.54" y="301.35" width="2.10" height="27.30" fill="#7c938f" stroke="#3e4a48" stroke-width="0.7"/>
<rect x="758.25" y="280.35" width="2.10" height="20.30" fill="#7c938f" stroke="#3e4a48" stroke-width="0.7"/>
<rect x="760.61" y="281.0" width="2.8" height="3.0" fill="#292d2d"/>
<rect x="763.67" y="258.35" width="2.10" height="12.30" fill="#7c938f" stroke="#3e4a48" stroke-width="0.7"/>
<rect x="766.02" y="259.5" width="2.8" height="19.5" fill="#292d2d"/>
<rect x="769.08" y="250.35" width="2.10" height="25.30" fill="#7c938f" stroke="#3e4a48" stroke-width="0.7"/>
<rect x="771.79" y="247.35" width="2.10" height="14.30" fill="#7c938f" stroke="#3e4a48" stroke-width="0.7"/>
<rect x="774.15" y="248.0" width="2.8" height="10.0" fill="#292d2d"/>
<rect x="777.21" y="251.75" width="2.10" height="10.60" fill="#7c938f" stroke="#3e4a48" stroke-width="0.7"/>
<rect x="779.91" y="234.95" width="2.10" height="27.40" fill="#7c938f" stroke="#3e4a48" stroke-width="0.7"/>
<rect x="782.62" y="221.35" width="2.10" height="13.30" fill="#7c938f" stroke="#3e4a48" stroke-width="0.7"/>
<rect x="785.33" y="216.35" width="2.10" height="4.30" fill="#7c938f" stroke="#3e4a48" stroke-width="0.7"/>
<rect x="788.04" y="214.35" width="2.10" height="3.30" fill="#7c938f" stroke="#3e4a48" stroke-width="0.7"/>
<rect x="790.40" y="208.0" width="2.8" height="9.7" fill="#292d2d"/>
<rect x="793.10" y="206.0" width="2.8" height="31.0" fill="#292d2d"/>
<rect x="796.16" y="222.35" width="2.10" height="13.30" fill="#7c938f" stroke="#3e4a48" stroke-width="0.7"/>
<rect x="798.87" y="204.35" width="2.10" height="17.30" fill="#7c938f" stroke="#3e4a48" stroke-width="0.7"/>
<rect x="801.58" y="180.35" width="2.10" height="23.30" fill="#7c938f" stroke="#3e4a48" stroke-width="0.7"/>
<rect x="804.29" y="180.35" width="2.10" height="5.30" fill="#7c938f" stroke="#3e4a48" stroke-width="0.7"/>
<rect x="806.99" y="173.95" width="2.10" height="5.70" fill="#7c938f" stroke="#3e4a48" stroke-width="0.7"/>
<rect x="809.70" y="170.75" width="2.10" height="6.90" fill="#7c938f" stroke="#3e4a48" stroke-width="0.7"/>
<rect x="812.41" y="156.75" width="2.10" height="13.60" fill="#7c938f" stroke="#3e4a48" stroke-width="0.7"/>
<rect x="814.77" y="155.0" width="2.8" height="5.0" fill="#292d2d"/>
<rect x="817.48" y="155.5" width="2.8" height="2.5" fill="#292d2d"/>
</g>
<!-- horizontal resistance lines -->
<rect x="150.3" y="149.8" width="814.5" height="4.4" fill="#ffb8c2" opacity="0.9"/>
<rect x="157.3" y="154.2" width="807.5" height="3.8" fill="#ffb8c2" opacity="0.9"/>
<rect x="150.3" y="151.1" width="814.5" height="1.8" fill="#b04f60" opacity="0.9"/>
<line x1="157.3" y1="156.4" x2="964.8" y2="156.4" stroke="#d0828f" stroke-width="1.6" opacity="0.9"/>
<line x1="157.3" y1="156.4" x2="964.8" y2="156.4" stroke="#b45a6c" stroke-width="1.6" stroke-dasharray="1.8 0.9" opacity="0.85"/>
<!-- logo -->
<circle cx="17.6" cy="16.5" r="7.6" fill="#5d1730"/>
<text x="17.6" y="18.2" font-family="Liberation Sans" font-size="4.6" font-weight="bold" fill="#e9d3da" text-anchor="middle">2000</text>
<!-- chevron -->
<path d="M17.6 37.8 L21.2 41.2 L24.8 37.8" fill="none" stroke="#2a2a2a" stroke-width="1.5"/>
<!-- TV logo -->
<g stroke="#ffffff" stroke-width="2.6" stroke-linejoin="round" fill="#111">
<path d="M11.7 514 H21.3 V527 H16.5 V519 H11.7 Z"/>
<circle cx="26.4" cy="516.2" r="2"/>
<path d="M31.7 514 H37.6 L33.6 527 H26.9 Z"/>
</g>
<g fill="#111">
<path d="M11.7 514 H21.3 V527 H16.5 V519 H11.7 Z"/>
<circle cx="26.4" cy="516.2" r="2"/>
<path d="M31.7 514 H37.6 L33.6 527 H26.9 Z"/>
</g>
<!-- gear -->
<path d="M992.3 548.6 H999.3 L1002 554 L999.3 559.4 H992.3 L989.6 554 Z" fill="none" stroke="#3a3a3a" stroke-width="1.3"/>
<circle cx="995.8" cy="554" r="1.8" fill="none" stroke="#3a3a3a" stroke-width="1.1"/>
<!-- price label boxes -->
<rect x="967" y="129" width="53" height="18" fill="#e03347"/>
<rect x="967" y="147.5" width="53" height="17" fill="#6fcfe0"/>
<rect x="967" y="165.5" width="53" height="17.5" fill="#e03347"/>
<!-- USD box -->
<rect x="969.4" y="7.5" width="51.8" height="20.6" rx="3" fill="#fcfcfc"/>
<path d="M1013 16.8 L1015.3 19 L1017.6 16.8" fill="none" stroke="#333" stroke-width="1.3"/>
<g font-family="Liberation Sans, sans-serif">
<text x="1015.4" y="50.7" text-anchor="end" font-size="12" fill="#444">2,900.0</text>
<text x="1015.4" y="96.7" text-anchor="end" font-size="12" fill="#444">2,700.0</text>
<text x="1015.4" y="202.2" text-anchor="end" font-size="12" fill="#444">2,300.0</text>
<text x="1015.4" y="261.9" text-anchor="end" font-size="12" fill="#444">2,100.0</text>
<text x="1015.4" y="293.2" text-anchor="end" font-size="12" fill="#444">2,000.0</text>
<text x="1015.4" y="334.2" text-anchor="end" font-size="12" fill="#444">1,880.0</text>
<text x="1015.4" y="377.2" text-anchor="end" font-size="12" fill="#444">1,760.0</text>
<text x="1015.4" y="415.7" text-anchor="end" font-size="12" fill="#444">1,660.0</text>
<text x="1015.4" y="448.6" text-anchor="end" font-size="12" fill="#444">1,580.0</text>
<text x="1015.4" y="481.4" text-anchor="end" font-size="12" fill="#444">1,500.0</text>
<text x="1015.4" y="512.9" text-anchor="end" font-size="12" fill="#444">1,430.0</text>
<text x="1015.4" y="142.3" text-anchor="end" font-size="12" fill="#ffffff">2,470.2</text>
<text x="1015.4" y="160.3" text-anchor="end" font-size="12" fill="#1d3036">2,456.0</text>
<text x="1015.4" y="178.5" text-anchor="end" font-size="12" fill="#ffffff">2,451.8</text>
<text x="12.5" y="557" text-anchor="middle" font-size="12" font-weight="bold" fill="#3a3a3a">020</text>
<text x="79.5" y="557" text-anchor="middle" font-size="12" fill="#4a4a4a">Jul</text>
<text x="149" y="557" text-anchor="middle" font-size="12" font-weight="bold" fill="#3a3a3a">2021</text>
<text x="220" y="557" text-anchor="middle" font-size="12" fill="#4a4a4a">Jul</text>
<text x="290" y="557" text-anchor="middle" font-size="12" font-weight="bold" fill="#3a3a3a">2022</text>
<text x="360.4" y="557" text-anchor="middle" font-size="12" fill="#4a4a4a">Jul</text>
<text x="430.6" y="557" text-anchor="middle" font-size="12" font-weight="bold" fill="#3a3a3a">2023</text>
<text x="501.5" y="557" text-anchor="middle" font-size="12" fill="#4a4a4a">Jul</text>
<text x="571.75" y="557" text-anchor="middle" font-size="12" font-weight="bold" fill="#3a3a3a">2024</text>
<text x="642.25" y="557" text-anchor="middle" font-size="12" fill="#4a4a4a">Jul</text>
<text x="715" y="557" text-anchor="middle" font-size="12" font-weight="bold" fill="#3a3a3a">2025</text>
<text x="785.75" y="557" text-anchor="middle" font-size="12" fill="#4a4a4a">Jul</text>
<text x="856" y="557" text-anchor="middle" font-size="12" font-weight="bold" fill="#3a3a3a">2026</text>
<text x="926.4" y="557" text-anchor="middle" font-size="12" fill="#4a4a4a">Jul</text>
</g>
</svg>
<div class="t" style="left:27.8px;top:8.9px;font-size:14px;letter-spacing:-0.6px;color:#4d4d4d;">US Russel 2000</div>
<div class="t" style="left:124.2px;top:8.9px;font-size:14px;color:#4d4d4d;">·</div>
<div class="t" style="left:131.6px;top:8.9px;font-size:14px;letter-spacing:-1px;color:#4d4d4d;">1W</div>
<div class="t" style="left:154px;top:8.9px;font-size:14px;color:#4d4d4d;">·</div>
<div class="t" style="left:161.4px;top:8.9px;font-size:14px;letter-spacing:0.2px;color:#4d4d4d;">Capital.com</div>
<div class="t" style="left:972.8px;top:11.3px;font-size:11px;color:#333;transform:scaleX(0.8);transform-origin:0 0;">USD</div>
<div class="t" style="left:553.4px;top:130.5px;font-size:11.5px;letter-spacing:0.22px;color:#5b6fd2;">Máximos 2021 y 2024</div>
<div id="plabels"></div>
</body></html>
